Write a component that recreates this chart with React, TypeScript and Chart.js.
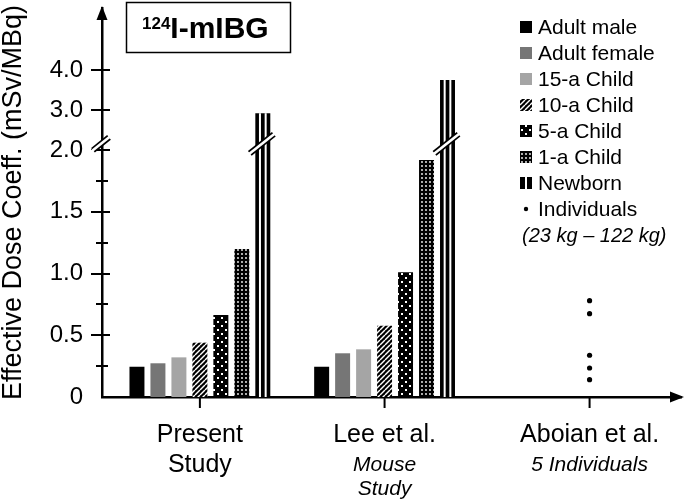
import React, { useEffect, useRef } from 'react';
import { Chart, registerables } from 'chart.js';

Chart.register(...registerables);

// ---------- data ----------
const categoryMainLines = [['Present', 'Study'], ['Lee et al.'], ['Aboian et al.']];
const categorySubLines = [[], ['Mouse', 'Study'], ['5 Individuals']];
const categoryPositions = [1, 2, 3.11];

const seriesNames = ['Adult male', 'Adult female', '15-a Child', '10-a Child', '5-a Child', '1-a Child', 'Newborn'];
const adultMale = [0.245, 0.245];
const adultFemale = [0.273, 0.354];
const child15 = [0.321, 0.386];
const child10 = [0.44, 0.577];
const child5 = [0.664, 1.01];
const child1 = [1.198, 1.919];
const newborn = [2.92, 3.75];
const individuals = [0.78, 0.675, 0.338, 0.235, 0.14];
const individualsLabel = 'Individuals';
const individualsNote = '(23 kg \u2013 122 kg)';

const yTickValues = [0, 0.25, 0.5, 0.75, 1, 1.25, 1.5, 1.75, 2, 3, 4];
const yTickLabels = ['0', '', '0.5', '', '1.0', '', '1.5', '', '2.0', '3.0', '4.0'];
const yTitle = 'Effective Dose Coeff. (mSv/MBq)';
const titleSup = '124';
const titleMain = 'I-mIBG';

// broken axis: above BREAK the scale is compressed
const BREAK = 2;
const UPPER_RATIO = 40 / 123.5;
const tf = (v: number) => (v <= BREAK ? v : BREAK + (v - BREAK) * UPPER_RATIO);
const BREAK_MARK = 2.05; // display units where break symbol sits

const FONT = "'Liberation Sans', Arial, sans-serif";

function makePattern(w: number, h: number, draw: (g: CanvasRenderingContext2D) => void) {
  const c = document.createElement('canvas');
  c.width = w;
  c.height = h;
  const g = c.getContext('2d')!;
  draw(g);
  return g.createPattern(c, 'repeat')!;
}

function drawBreak(ctx: CanvasRenderingContext2D, cx: number, cy: number, hw: number) {
  ctx.save();
  ctx.lineCap = 'butt';
  ctx.beginPath();
  ctx.moveTo(cx - hw, cy + hw * 0.8);
  ctx.lineTo(cx + hw, cy - hw * 0.8);
  ctx.strokeStyle = '#000';
  ctx.lineWidth = 6;
  ctx.stroke();
  ctx.beginPath();
  ctx.moveTo(cx - hw - 2, cy + (hw + 2) * 0.8);
  ctx.lineTo(cx + hw + 2, cy - (hw + 2) * 0.8);
  ctx.strokeStyle = '#fff';
  ctx.lineWidth = 2.6;
  ctx.stroke();
  ctx.restore();
}

export default function App() {
  const ref = useRef<HTMLCanvasElement>(null);

  useEffect(() => {
    const canvas = ref.current!;
    const hatch = makePattern(5, 5, (g) => {
      g.fillStyle = '#000';
      g.fillRect(0, 0, 5, 5);
      g.strokeStyle = '#fff';
      g.lineWidth = 1.4;
      for (const k of [-5, 0, 5]) {
        g.beginPath();
        g.moveTo(k, 5);
        g.lineTo(k + 5, 0);
        g.stroke();
      }
    });
    const sparseDots = makePattern(8, 8, (g) => {
      g.fillStyle = '#000';
      g.fillRect(0, 0, 8, 8);
      g.fillStyle = '#fff';
      g.fillRect(1, 1, 2, 2);
      g.fillRect(5, 5, 2, 2);
    });
    const denseDots = makePattern(4, 4, (g) => {
      g.fillStyle = '#000';
      g.fillRect(0, 0, 4, 4);
      g.fillStyle = '#fff';
      g.beginPath();
      g.arc(2, 2, 0.9, 0, Math.PI * 2);
      g.fill();
    });

    const fills: (string | CanvasPattern)[] = ['#000000', '#767676', '#a5a5a5', hatch, sparseDots, denseDots, '#000000'];
    const seriesValues = [adultMale, adultFemale, child15, child10, child5, child1, newborn];

    const barDatasets = seriesValues.map((vals, i) => ({
      type: 'bar' as const,
      label: seriesNames[i],
      data: vals.map((v, j) => ({ x: categoryPositions[j], y: tf(v) })),
      backgroundColor: fills[i],
      borderWidth: 0,
      categoryPercentage: 0.795,
      barPercentage: 0.714,
    }));

    const scatterDataset = {
      type: 'scatter' as const,
      label: individualsLabel,
      data: individuals.map((v) => ({ x: categoryPositions[2], y: tf(v) })),
      backgroundColor: '#000',
      borderColor: '#000',
      pointRadius: 2.6,
      borderWidth: 0,
    };

    const decor = {
      id: 'decor',
      afterDraw(chart: any) {
        const ctx: CanvasRenderingContext2D = chart.ctx;
        const xs = chart.scales.x;
        const ys = chart.scales.y;
        const area = chart.chartArea;
        ctx.save();

        // newborn stripes + breaks
        const nbMeta = chart.getDatasetMeta(6);
        const yb = ys.getPixelForValue(BREAK_MARK);
        nbMeta.data.forEach((el: any) => {
          const w = el.width;
          const left = el.x - w / 2;
          ctx.fillStyle = '#fff';
          ctx.fillRect(left + w * 0.31 - 1, el.y, 2, el.base - el.y);
          ctx.fillRect(left + w * 0.69 - 1, el.y, 2, el.base - el.y);
          drawBreak(ctx, el.x - 1, yb, 12);
        });

        // y ticks (crossing the axis)
        ctx.strokeStyle = '#000';
        ctx.lineWidth = 2;
        yTickValues.forEach((v, i) => {
          if (v === 0) return;
          const y = Math.round(ys.getPixelForValue(tf(v)));
          const major = yTickLabels[i] !== '';
          ctx.beginPath();
          ctx.moveTo(area.left - (major ? 11 : 6), y);
          ctx.lineTo(area.left + (major ? 8 : 6), y);
          ctx.stroke();
        });
        // y-axis break
        drawBreak(ctx, area.left - 1, yb, 8);

        // arrows
        ctx.fillStyle = '#000';
        ctx.beginPath();
        ctx.moveTo(area.left, 6);
        ctx.lineTo(area.left - 5.5, 20);
        ctx.lineTo(area.left + 5.5, 20);
        ctx.closePath();
        ctx.fill();
        ctx.beginPath();
        ctx.moveTo(area.right + 3, area.bottom);
        ctx.lineTo(area.right - 11, area.bottom - 5.5);
        ctx.lineTo(area.right - 11, area.bottom + 5.5);
        ctx.closePath();
        ctx.fill();

        // x ticks and labels
        ctx.lineWidth = 2;
        categoryPositions.forEach((p, i) => {
          const x = xs.getPixelForValue(p);
          ctx.beginPath();
          ctx.moveTo(x, area.bottom);
          ctx.lineTo(x, area.bottom + 11);
          ctx.stroke();
          ctx.textAlign = 'center';
          ctx.textBaseline = 'alphabetic';
          ctx.fillStyle = '#000';
          ctx.font = `25px ${FONT}`;
          categoryMainLines[i].forEach((t, k) => ctx.fillText(t, x, 442 + k * 30));
          ctx.font = `italic 21px ${FONT}`;
          categorySubLines[i].forEach((t, k) => ctx.fillText(t, x, 471 + k * 24));
        });

        // title box
        ctx.lineWidth = 1.5;
        ctx.strokeRect(126.5, 2.5, 164, 50);
        ctx.textAlign = 'left';
        ctx.font = `bold 17px ${FONT}`;
        ctx.fillText(titleSup, 142, 29);
        const supW = ctx.measureText(titleSup).width;
        ctx.font = `bold 30px ${FONT}`;
        ctx.fillText(titleMain, 142 + supW, 38);

        // legend
        ctx.textBaseline = 'middle';
        ctx.font = `21px ${FONT}`;
        const lx = 520;
        const ly0 = 27;
        const step = 26;
        seriesNames.forEach((name, i) => {
          const cy = ly0 + i * step;
          ctx.fillStyle = fills[i] as any;
          ctx.fillRect(lx, cy - 6, 12, 12);
          if (i === 6) {
            ctx.fillStyle = '#fff';
            ctx.fillRect(lx + 5, cy - 6, 2, 12);
          }
          ctx.fillStyle = '#000';
          ctx.fillText(name, lx + 18, cy + 1);
        });
        const cyI = ly0 + 7 * step;
        ctx.beginPath();
        ctx.arc(lx + 6, cyI, 2.2, 0, Math.PI * 2);
        ctx.fill();
        ctx.fillText(individualsLabel, lx + 18, cyI + 1);
        ctx.font = `italic 20px ${FONT}`;
        ctx.fillText(individualsNote, lx + 2, ly0 + 8 * step + 1);

        ctx.restore();
      },
    };

    const chart = new Chart(canvas, {
      type: 'bar',
      data: { datasets: [...barDatasets, scatterDataset] as any },
      options: {
        responsive: false,
        animation: false,
        events: [],
        layout: { padding: { top: 8, right: 4, left: 0, bottom: 0 } },
        plugins: { legend: { display: false }, tooltip: { enabled: false }, title: { display: false } },
        scales: {
          x: {
            type: 'linear',
            min: 0.47,
            max: 3.605,
            offset: false,
            z: 1,
            grid: { display: false, drawTicks: false },
            border: { display: true, color: '#000', width: 2.5 },
            ticks: { display: false },
            afterBuildTicks: (s: any) => {
              s.ticks = categoryPositions.map((v) => ({ value: v }));
            },
            afterFit: (s: any) => {
              s.height = 106;
              s.paddingLeft = 0;
              s.paddingRight = 0;
            },
          },
          y: {
            type: 'linear',
            min: 0,
            max: 3.15,
            z: 1,
            grid: { display: false, drawTicks: false },
            border: { display: true, color: '#000', width: 2.5 },
            afterBuildTicks: (s: any) => {
              s.ticks = yTickValues.map((v) => ({ value: tf(v) }));
            },
            ticks: {
              autoSkip: false,
              padding: 19,
              color: '#000',
              font: { size: 24, family: FONT },
              callback: (_v: any, i: number) => yTickLabels[i],
            },
            title: {
              display: true,
              text: yTitle,
              color: '#000',
              padding: 0,
              font: { size: 27, family: FONT, lineHeight: 1 },
            },
            afterFit: (s: any) => {
              s.width = 102;
              s.paddingTop = 0;
              s.paddingBottom = 0;
            },
          },
        },
      },
      plugins: [decor],
    });
    return () => chart.destroy();
  }, []);

  return (
    <div style={{ position: 'fixed', left: 0, top: 0, width: 685, height: 503, background: '#fff' }}>
      <canvas ref={ref} width={685} height={503} style={{ display: 'block' }} />
    </div>
  );
}
